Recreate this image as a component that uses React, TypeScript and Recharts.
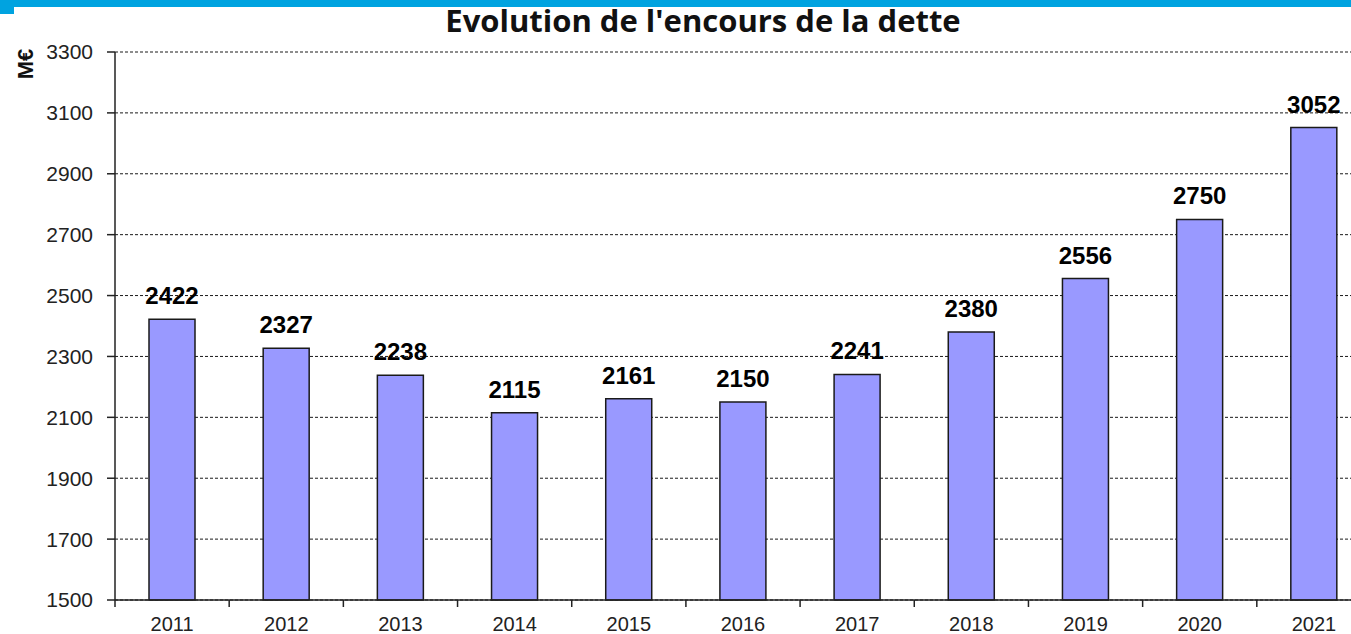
import { Bar, BarChart, CartesianGrid, LabelList, XAxis, YAxis } from 'recharts';

const years = ['2011', '2012', '2013', '2014', '2015', '2016', '2017', '2018', '2019', '2020', '2021'];
const encours = [2422, 2327, 2238, 2115, 2161, 2150, 2241, 2380, 2556, 2750, 3052];
const yTicks = [1500, 1700, 1900, 2100, 2300, 2500, 2700, 2900, 3100, 3300];

const data = years.map((year, i) => ({ year, encours: encours[i] }));

const CHART_W = 1400;
const CHART_H = 634;
const LEFT = 115;
const RIGHT = 29;
const BAND = (CHART_W - LEFT - RIGHT) / years.length;
const FONT = '"Liberation Sans", Arial, sans-serif';

function YearTick(props: any) {
  const { x, y, payload } = props;
  const edge = x - BAND / 2;
  return (
    <g>
      <line x1={edge} y1={y} x2={edge} y2={y + 7} stroke='#222' strokeWidth={1.5} />
      <text x={x} y={y + 31} textAnchor='middle' fill='#222' fontSize={20} fontFamily={FONT}>
        {payload.value}
      </text>
    </g>
  );
}

export default function App() {
  return (
    <div
      style={{
        position: 'fixed',
        left: 0,
        top: 0,
        width: 1351,
        height: 634,
        overflow: 'hidden',
        background: '#fff',
      }}
    >
      <BarChart
        width={CHART_W}
        height={CHART_H}
        data={data}
        margin={{ top: 52, right: RIGHT, bottom: 0, left: 8 }}
      >
        <CartesianGrid vertical={false} stroke='#1a1a1a' strokeDasharray='3 2' />
        <XAxis
          dataKey='year'
          height={34}
          axisLine={{ stroke: '#222', strokeWidth: 1.5 }}
          tickLine={false}
          tickSize={0}
          tickMargin={0}
          interval={0}
          tick={<YearTick />}
        />
        <YAxis
          width={107}
          domain={[1500, 3300]}
          ticks={yTicks}
          interval={0}
          axisLine={{ stroke: '#222', strokeWidth: 1.5 }}
          tickLine={{ stroke: '#222', strokeWidth: 1.5 }}
          tickSize={8}
          tickMargin={14}
          tick={{ fill: '#222', fontSize: 21, fontFamily: FONT }}
        />
        <Bar
          dataKey='encours'
          fill='#9999FF'
          stroke='#1a1a1a'
          strokeWidth={1.5}
          barSize={46}
          isAnimationActive={false}
        >
          <LabelList
            dataKey='encours'
            position='top'
            offset={15}
            fill='#000'
            fontSize={24}
            fontWeight='bold'
            fontFamily={FONT}
          />
        </Bar>
      </BarChart>
      <svg
        width={1351}
        height={634}
        style={{ position: 'absolute', left: 0, top: 0, pointerEvents: 'none' }}
      >
        <rect x={0} y={0} width={1351} height={7} fill='#00A3E0' />
        <rect x={0} y={0} width={14} height={14} fill='#00A3E0' />
        <text
          x={703}
          y={32}
          textAnchor='middle'
          fontSize={31}
          fontWeight='bold'
          fontFamily='"Open Sans", sans-serif'
          fill='#111'
        >
          Evolution de l'encours de la dette
        </text>
        <text
          x={0}
          y={0}
          transform='translate(33, 64) rotate(-90)'
          textAnchor='middle'
          fontSize={22}
          fontWeight='bold'
          fontFamily={FONT}
          fill='#111'
        >
          M€
        </text>
      </svg>
    </div>
  );
}
